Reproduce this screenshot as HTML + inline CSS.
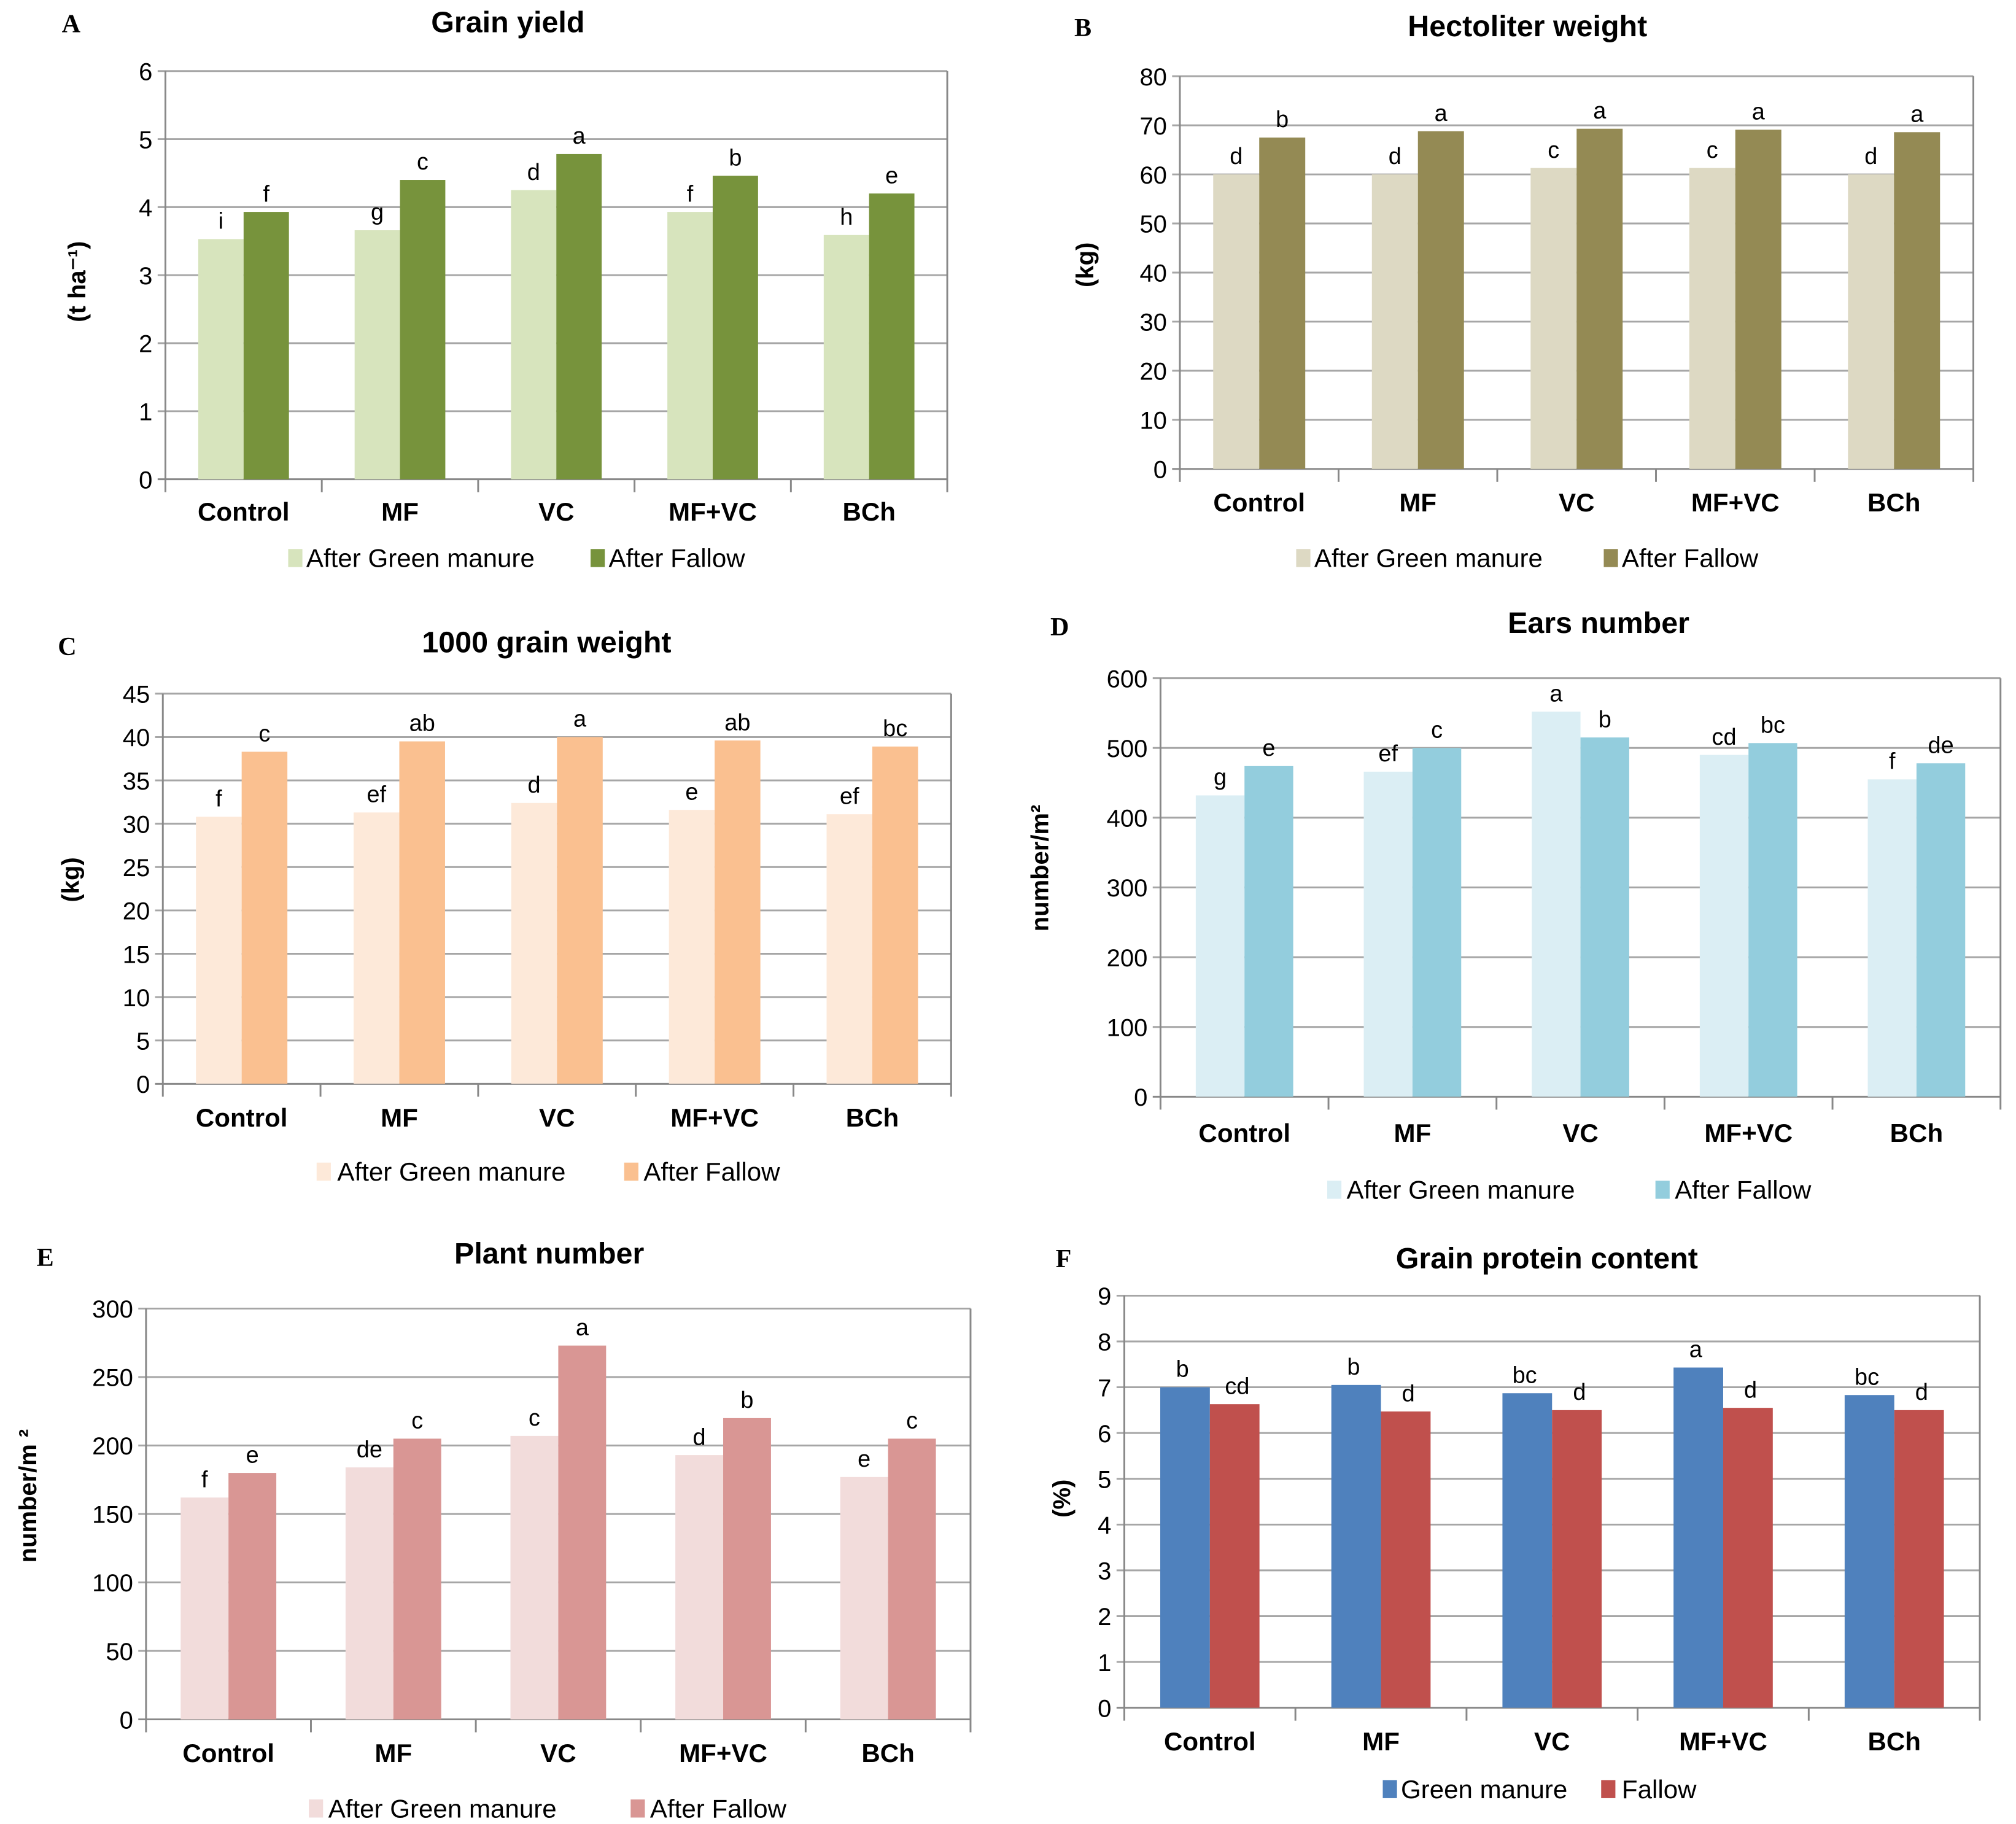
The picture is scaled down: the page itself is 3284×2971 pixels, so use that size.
<!DOCTYPE html>
<html><head><meta charset="utf-8"><style>
html,body{margin:0;padding:0;background:#fff;}
svg{display:block;}
text{font-family:"Liberation Sans Narrow","Liberation Sans",sans-serif;fill:#000;}
.tick{font-size:19px;}
.cat{font-size:20px;font-weight:bold;font-family:"Liberation Sans",sans-serif;}
.title{font-size:23px;font-weight:bold;font-family:"Liberation Sans",sans-serif;}
.leg{font-size:20px;}
.lt{font-size:18px;}
.yl{font-size:19px;font-weight:bold;font-family:"Liberation Sans",sans-serif;}
.pl{font-size:20px;font-weight:bold;font-family:"Liberation Serif",serif;}
</style></head><body>
<svg id="fig" width="3284" height="2971" viewBox="0 0 1560 1412" preserveAspectRatio="none" xmlns="http://www.w3.org/2000/svg"></svg>
<script>
const categories = ["Control","MF","VC","MF+VC","BCh"];
const yieldGM = [3.53,3.66,4.25,3.93,3.59];
const yieldF = [3.93,4.40,4.78,4.46,4.20];
const yieldLetGM = ["i","g","d","f","h"];
const yieldLetF = ["f","c","a","b","e"];
const hlGM = [60,60,61.3,61.3,60];
const hlF = [67.5,68.8,69.3,69.1,68.6];
const hlLetGM = ["d","d","c","c","d"];
const hlLetF = ["b","a","a","a","a"];
const tgwGM = [30.8,31.3,32.4,31.6,31.1];
const tgwF = [38.3,39.5,40.0,39.6,38.9];
const tgwLetGM = ["f","ef","d","e","ef"];
const tgwLetF = ["c","ab","a","ab","bc"];
const earsGM = [432,466,552,490,455];
const earsF = [474,500,515,507,478];
const earsLetGM = ["g","ef","a","cd","f"];
const earsLetF = ["e","c","b","bc","de"];
const plantGM = [162,184,207,193,177];
const plantF = [180,205,273,220,205];
const plantLetGM = ["f","de","c","d","e"];
const plantLetF = ["e","c","a","b","c"];
const protGM = [7.0,7.05,6.87,7.43,6.83];
const protF = [6.63,6.47,6.5,6.55,6.5];
const protLetGM = ["b","b","bc","a","bc"];
const protLetF = ["cd","d","d","d","d"];
const ticksA = [0,1,2,3,4,5,6];
const ticksB = [0,10,20,30,40,50,60,70,80];
const ticksC = [0,5,10,15,20,25,30,35,40,45];
const ticksD = [0,100,200,300,400,500,600];
const ticksE = [0,50,100,150,200,250,300];
const ticksF = [0,1,2,3,4,5,6,7,8,9];

const NS="http://www.w3.org/2000/svg";
const svg=document.getElementById('fig');
function mk(tag,attrs,parent,txt){const e=document.createElementNS(NS,tag);for(const k in attrs)e.setAttribute(k,attrs[k]);if(txt!==undefined)e.textContent=txt;parent.appendChild(e);return e;}

function panel(cfg){
  const g=mk('g',{},svg);
  
  
  const {x0,x1,y0,y1,ticks,gm,f,lgm,lf}=cfg;
  const max=ticks[ticks.length-1];
  const ys=v=>y1-(v/max)*(y1-y0);
  const gw=(x1-x0)/categories.length;
  const bw=gw*0.29;
  // gridlines
  ticks.forEach(t=>{
    const y=ys(t);
    const gl=mk('line',{x1:x0-6,x2:x1,y1:y,y2:y,stroke:t===0?'#888':'#a6a6a6','stroke-width':1.4},g);
    
    
    const tl=mk('text',{x:x0-10,y:y+7,'text-anchor':'end',class:'tick'},g,String(t));
    
    
  });
  mk('line',{x1:x0,x2:x0,y1:y0,y2:y1+10,stroke:'#888','stroke-width':1.4},g);
  mk('line',{x1:x1,x2:x1,y1:y0,y2:y1+10,stroke:'#888','stroke-width':1.4},g);
  for(let i=1;i<categories.length;i++){mk('line',{x1:x0+gw*i,x2:x0+gw*i,y1:y1,y2:y1+10,stroke:'#888','stroke-width':1.4},g);}
  categories.forEach((c,i)=>{
    const cx=x0+gw*i+gw/2;
    const b1=mk('rect',{x:cx-bw,y:ys(gm[i]),width:bw,height:y1-ys(gm[i]),fill:cfg.c1},g);
    
    
    const b2=mk('rect',{x:cx,y:ys(f[i]),width:bw,height:y1-ys(f[i]),fill:cfg.c2},g);
    
    
    const t1=mk('text',{x:cx-bw/2-(cfg.shiftL||0),y:ys(gm[i])-8,'text-anchor':'middle',class:'lt'},g,lgm[i]);
    
    
    const t2=mk('text',{x:cx+bw/2+(cfg.shiftL||0),y:ys(f[i])-8,'text-anchor':'middle',class:'lt'},g,lf[i]);
    
    
    const cl=mk('text',{x:cx,y:cfg.catY,'text-anchor':'middle',class:'cat'},g,c);
    
    
  });
  const tt=mk('text',{x:cfg.title[1],y:cfg.title[2],'text-anchor':'middle',class:'title'},g,cfg.title[0]);
  
  
  const pl=mk('text',{x:cfg.letter[1],y:cfg.letter[2],'text-anchor':'middle',class:'pl'},g,cfg.letter[0]);
  
  
  const yl=mk('text',{x:0,y:0,'text-anchor':'middle',class:'yl',transform:`translate(${cfg.ylab[1]},${cfg.ylab[2]}) rotate(-90)`},g,cfg.ylab[0]);
  
  
  const L=cfg.leg;
  const s1=mk('rect',{x:L[1],y:L[0]-14,width:11,height:14,fill:cfg.c1},g);
  
  
  const l1=mk('text',{x:L[2],y:L[0],class:'leg'},g,cfg.n1);
  
  
  const s2=mk('rect',{x:L[3],y:L[0]-14,width:11,height:14,fill:cfg.c2},g);
  
  
  const l2=mk('text',{x:L[4],y:L[0],class:'leg'},g,cfg.n2);
  
  
}
const N1="After Green manure",N2="After Fallow";
panel({name:'panel-a-grain-yield',x0:128,x1:733,y0:55,y1:371,ticks:ticksA,gm:yieldGM,f:yieldF,lgm:yieldLetGM,lf:yieldLetF,c1:'#d7e4bd',c2:'#77933c',catY:403,title:['Grain yield',393,25],letter:['A',55,25],ylab:['(t ha\u207B\u00B9)',66,218],leg:[439,223,237,457,471],n1:N1,n2:N2});
panel({name:'panel-b-hectoliter-weight',x0:913,x1:1527,y0:59,y1:363,ticks:ticksB,gm:hlGM,f:hlF,lgm:hlLetGM,lf:hlLetF,c1:'#ddd9c3',c2:'#948a54',catY:396,title:['Hectoliter weight',1182,28],letter:['B',838,28],ylab:['(kg)',846,205],leg:[439,1003,1017,1241,1255],n1:N1,n2:N2});
panel({name:'panel-c-1000-grain-weight',x0:126,x1:736,y0:537,y1:839,ticks:ticksC,gm:tgwGM,f:tgwF,lgm:tgwLetGM,lf:tgwLetF,c1:'#fde9d9',c2:'#fac090',catY:872,title:['1000 grain weight',423,505],letter:['C',52,507],ylab:['(kg)',61,681],leg:[914,245,261,483,498],n1:N1,n2:N2});
panel({name:'panel-d-ears-number',x0:898,x1:1548,y0:525,y1:849,ticks:ticksD,gm:earsGM,f:earsF,lgm:earsLetGM,lf:earsLetF,c1:'#dbeef4',c2:'#93cddd',catY:884,title:['Ears number',1237,490],letter:['D',820,492],ylab:['number/m\u00B2',811,672],leg:[928,1027,1042,1281,1296],n1:N1,n2:N2});
panel({name:'panel-e-plant-number',x0:113,x1:751,y0:1013,y1:1331,ticks:ticksE,gm:plantGM,f:plantF,lgm:plantLetGM,lf:plantLetF,c1:'#f2dcdb',c2:'#d99694',catY:1364,title:['Plant number',425,978],letter:['E',35,980],ylab:['number/m \u00B2',28,1158],leg:[1407,239,254,488,503],n1:N1,n2:N2});
panel({name:'panel-f-grain-protein',x0:870,x1:1532,y0:1003,y1:1322,ticks:ticksF,gm:protGM,f:protF,lgm:protLetGM,lf:protLetF,c1:'#4f81bd',c2:'#c0504d',catY:1355,title:['Grain protein content',1197,982],letter:['F',823,981],ylab:['(%)',828,1160],leg:[1392,1070,1084,1239,1255],n1:'Green manure',n2:'Fallow',shiftL:2});
</script>
</body></html>
